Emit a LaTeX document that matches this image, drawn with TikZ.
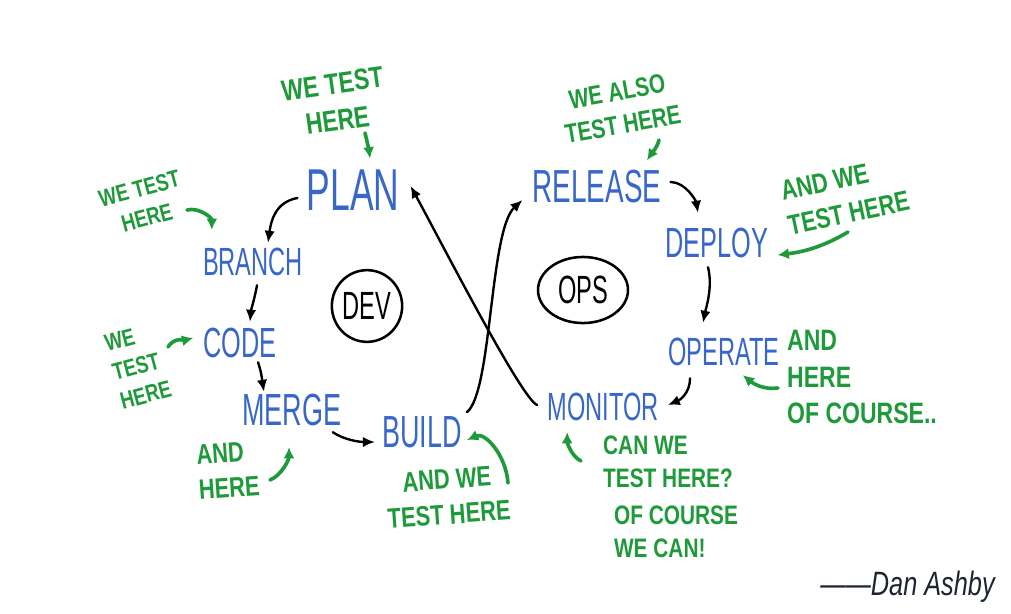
\documentclass[tikz,border=0pt]{standalone}
\usepackage{fontspec}
\setmainfont{Liberation Sans}
\newfontfamily\stagefont{Liberation Sans}[FakeStretch=0.6]
\newfontfamily\notefont{Liberation Sans}[FakeStretch=0.78]
\newfontfamily\signfont{Liberation Sans}[FakeStretch=0.75]
\usepackage{xcolor}
\usepackage{tikz}
\usetikzlibrary{arrows.meta,shapes.geometric}
\definecolor{devblue}{HTML}{3867C9}
\definecolor{testgreen}{HTML}{1F9A3A}
\definecolor{signnavy}{HTML}{1B2435}

\begin{document}
\begin{tikzpicture}[
  x=0.025cm, y=-0.025cm,
  stage/.style={text=devblue,inner sep=0pt,font=\stagefont\fontsize{#1}{#1}\selectfont},
  stage/.default=30,
  note/.style={text=testgreen,inner sep=0pt,align=center,font=\notefont\bfseries\fontsize{#1}{\fpeval{1.25*#1}}\selectfont},
  note/.default=20,
  phase/.style={draw,ellipse,line width=1.8pt,inner sep=0pt,font=\stagefont\fontsize{28}{28}\selectfont},
  flow/.style={-{Latex[length=3mm,width=2.6mm]},line width=1.7pt,line cap=round},
  hint/.style={-{Latex[length=2.8mm,width=2.8mm]},line width=2.6pt,draw=testgreen,line cap=round}
]
\useasboundingbox (0,0) rectangle (1011,613);
% dev half
\node[stage=42] (plan) at (353,190) {PLAN};
\node[stage=28] (branch) at (253,262) {BRANCH};
\node[stage=30] (code) at (240,343) {CODE};
\node[stage=32] (merge) at (292,410) {MERGE};
\node[stage=32] (build) at (422,432) {BUILD};
% ops half
\node[stage=33] (release) at (597,187) {RELEASE};
\node[stage=30] (deploy) at (717,243) {DEPLOY};
\node[stage=28] (operate) at (724,352) {OPERATE};
\node[stage=28] (monitor) at (603,407) {MONITOR};
\node[phase,minimum width=50pt,minimum height=51pt] (dev) at (367,306) {DEV};
\node[phase,minimum width=64pt,minimum height=47pt] (ops) at (583,290) {OPS};
% testing notes
\node[note=21,rotate=8] (tplan) at (335,102) {WE TEST\\HERE};
\node[note=17,rotate=15] (tbranch) at (143,203) {WE TEST\\HERE};
\node[note=17,rotate=15,align=left] (tcode) at (138,366) {WE\\TEST\\HERE};
\node[note=20,rotate=4,align=left] (tmerge) at (228,470) {AND\\HERE};
\node[note=20,rotate=4] (tbuild) at (448,497) {AND WE\\TEST HERE};
\node[note=19,rotate=10] (trelease) at (620,108) {WE ALSO\\TEST HERE};
\node[note=20,rotate=12,align=left] (tdeploy) at (845,196) {AND WE\\TEST HERE};
\node[note=21,align=left] (toperate) at (862,377) {AND\\HERE\\OF COURSE..};
\node[note=19,align=left] (tmonitor) at (668,462) {CAN WE\\TEST HERE?};
\node[note=19,align=left] (answer) at (676,532) {OF COURSE\\WE CAN!};
\node[text=signnavy,inner sep=0pt,anchor=east,font=\signfont\itshape\fontsize{24}{24}\selectfont] (sign) at (995,587) {——Dan Ashby};
% the loop
\draw[flow] ([shift={(-9,8)}]plan.west) .. controls +(-22,4) and +(3,-22) .. ([shift={(15,-5)}]branch.north);
\draw[flow] ([shift={(4,9)}]branch.south) .. controls +(-2,12) and +(1,-12) .. ([shift={(10,-6)}]code.north);
\draw[flow] ([shift={(18,4)}]code.south) .. controls +(4,12) and +(-2,-12) .. ([shift={(-28,-2)}]merge.north);
\draw[flow] ([shift={(-9,6)}]merge.south east) .. controls +(12,8) and +(-15,0) .. ([shift={(-7,10)}]build.west);
\draw[flow] ([shift={(5,-4)}]build.north east) .. controls +(25,-20) and +(-33,30) .. ([shift={(-10,13)}]release.west);
\draw[flow] ([shift={(9,-5)}]release.east) .. controls +(15,0) and +(-2,-12) .. ([shift={(-19,-15)}]deploy.north);
\draw[flow] ([shift={(-9,9)}]deploy.south) .. controls +(5,20) and +(3,-15) .. ([shift={(-21,-15)}]operate.north);
\draw[flow] ([shift={(-34,12)}]operate.south) .. controls +(0,15) and +(12,-5) .. ([shift={(9,-2)}]monitor.east);
\draw[flow] ([shift={(-10,-2)}]monitor.west) .. controls +(-15,-5) and +(30,55) .. ([shift={(11,-4)}]plan.east);
% green pointers
\draw[hint] ([shift={(30,31)}]tplan.center) .. controls +(2,8) and +(-1,-8) .. ([shift={(17,-11)}]plan.north);
\draw[hint] ([shift={(44,7)}]tbranch.center) .. controls +(12,-3) and +(0,-12) .. ([shift={(9,-18)}]branch.north west);
\draw[hint] ([shift={(30,-19)}]tcode.center) .. controls +(6,-10) and +(-8,2) .. ([shift={(-10,-5)}]code.west);
\draw[hint] ([shift={(42,10)}]tmerge.center) .. controls +(12,-5) and +(0,12) .. ([shift={(-3,21)}]merge.south);
\draw[hint] ([shift={(60,-14)}]tbuild.center) .. controls +(-2,-28) and +(18,-8) .. ([shift={(5,-8)}]build.south east);
\draw[hint] ([shift={(39,32)}]trelease.center) .. controls +(-2,8) and +(4,-6) .. ([shift={(50,-10)}]release.north);
\draw[hint] ([shift={(3,36)}]tdeploy.center) .. controls +(-25,15) and +(25,-3) .. ([shift={(9,12)}]deploy.east);
\draw[hint] ([shift={(-84,11)}]toperate.center) .. controls +(-15,2) and +(10,8) .. ([shift={(-37,9)}]operate.south east);
\draw[hint] ([shift={(-87,-1)}]tmonitor.center) .. controls +(-10,-5) and +(0,10) .. ([shift={(20,11)}]monitor.south west);
\end{tikzpicture}
\end{document}
